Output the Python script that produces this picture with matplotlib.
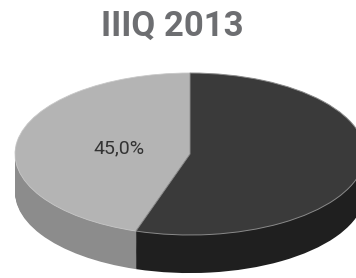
import matplotlib
matplotlib.use("Agg")
import numpy as np
import matplotlib.pyplot as plt

#%% data
title = "IIIQ 2013"
shares = [45.0, 55.0]
top_colors = ['#b4b4b4', '#3a3a3a']
side_colors = ['#8c8c8c', '#1f1f1f']
labelled = [True, False]

#%% figure
fig = plt.figure(figsize=(3.56, 2.78), dpi=100)
ax = fig.add_axes([0, 0, 1, 1])
ax.set_axis_off()

depth = 0.47
n_layers = 40

# side of the disc: stack of pies pushed downward
for k in np.linspace(depth, 0.01, n_layers):
    ax.pie(shares, colors=side_colors, startangle=90, counterclock=True,
           center=(0, -k), radius=1, normalize=True,
           wedgeprops=dict(edgecolor='none', linewidth=0))


def pct_label(p):
    s = f"{p:.1f}%".replace('.', ',')
    return s if abs(p - shares[0]) < 0.5 and labelled[0] else ''


wedges, texts, autotexts = ax.pie(shares, colors=top_colors, startangle=90,
                                  counterclock=True, center=(0, 0), radius=1,
                                  normalize=True, autopct=pct_label,
                                  pctdistance=0.41,
                                  wedgeprops=dict(edgecolor='none', linewidth=0),
                                  textprops=dict(fontsize=14, color='#333333',
                                                 family='Roboto'))
wedges[0].set_edgecolor('#c8c8c8')
wedges[0].set_linewidth(0.6)
wedges[1].set_edgecolor('#8a8a8a')
wedges[1].set_linewidth(0.7)

ax.set_aspect('auto')
ax.set_xlim(-190 / 175, 166 / 175)
ax.set_ylim(-(278 - 154) / 81, 154 / 81)

fig.text(0.483, 0.905, title, ha='center', va='center', fontsize=25,
         fontweight='bold', color='#6d6e71', family='Roboto')

fig.savefig('out.png', dpi=100)
